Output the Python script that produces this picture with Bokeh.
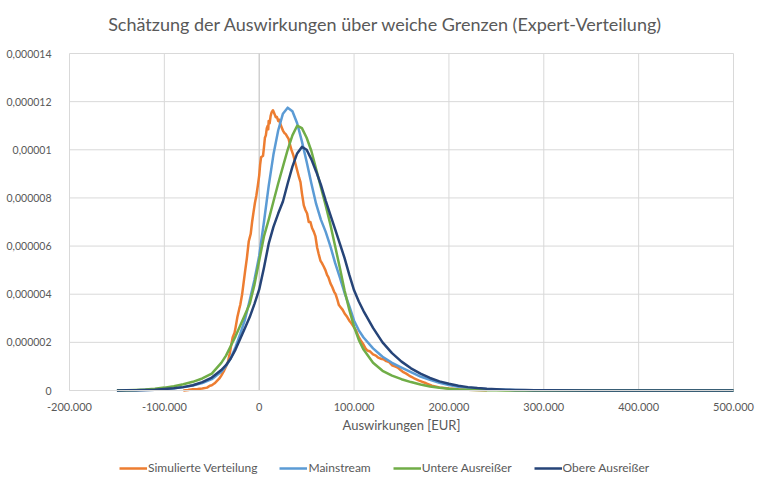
from bokeh.plotting import figure
from bokeh.models import Range1d, FixedTicker, Legend, LegendItem, ColumnDataSource, Label
from bokeh.embed import file_html
from bokeh.resources import INLINE

TITLE = "Schätzung der Auswirkungen über weiche Grenzen (Expert-Verteilung)"
X_LABEL = "Auswirkungen [EUR]"
SERIES_NAMES = ["Simulierte Verteilung", "Mainstream", "Untere Ausreißer", "Obere Ausreißer"]
COLORS = ["#ED7D31", "#5B9BD5", "#70AD47", "#264478"]

x_ticks = [-200000, -100000, 0, 100000, 200000, 300000, 400000, 500000]
x_tick_labels = ["-200.000", "-100.000", "0", "100.000", "200.000", "300.000", "400.000", "500.000"]
y_ticks = [0, 0.000002, 0.000004, 0.000006, 0.000008, 0.00001, 0.000012, 0.000014]
y_tick_labels = ["0", "0,000002", "0,000004", "0,000006", "0,000008", "0,00001", "0,000012", "0,000014"]

# values in units of 1e-6
UNIT = 1e-6

x_sim = [-80000, -75000, -70000, -65000, -60000, -55000, -52000, -50000, -47000, -45000,
         -42000, -40000, -37000, -35000, -33000, -31000, -29000, -28000, -26000, -25000,
         -23000, -21000, -20000, -18000, -15000, -13000, -11000, -10000, -9000, -7500,
         -6000, -4500, -3000, -1500, 0, 1000, 2000, 3000, 4000, 5000,
         6000, 7000, 8000, 9000, 9500, 10000, 11000, 12000, 13000, 14500,
         15500, 16500, 17500, 18700, 20000, 21000, 22000, 23500, 25000, 26500,
         28000, 29500, 31000, 32500, 34000, 36000, 38000, 40000, 42000, 43500,
         45000, 47000, 48700, 50500, 52200, 54000, 55700, 57500, 59300, 61000,
         62500, 64500, 66000, 68000, 69800, 71500, 73000, 75100, 77000, 79000,
         80500, 82200, 84000, 86000, 88000, 90000, 92800, 95000, 97000, 99800,
         102000, 104500, 107000, 110000, 112000, 114000, 117000, 120000, 123000, 125000,
         128000, 131000, 134000, 137000, 140000, 143000, 146000, 149000, 152000, 155000,
         158000, 161000, 164000, 168000, 172000, 176000, 182000, 190000, 200000, 210000,
         220000, 230000, 240000]
y_sim_u = [0.0, 0.02, 0.05, 0.06, 0.08, 0.12, 0.2, 0.22, 0.3, 0.38,
           0.5, 0.62, 0.83, 1.0, 1.18, 1.55, 2.0, 2.2, 2.4, 2.6,
           3.05, 3.4, 3.55, 4.0, 4.92, 5.5, 6.2, 6.35, 6.5, 7.0,
           7.41, 7.8, 8.1, 8.5, 8.94, 9.4, 9.7, 9.72, 9.75, 10.1,
           10.5, 10.6, 10.9, 11.0, 10.85, 11.2, 11.1, 11.4, 11.55, 11.64,
           11.55, 11.45, 11.35, 11.36, 11.2, 11.25, 11.1, 10.95, 10.8, 10.7,
           10.65, 10.55, 10.45, 10.2, 10.0, 9.77, 9.45, 9.15, 8.85, 8.66,
           8.2, 7.69, 7.5, 7.35, 7.0, 7.0, 6.75, 6.6, 6.4, 5.95,
           5.7, 5.4, 5.3, 5.15, 5.0, 4.8, 4.7, 4.45, 4.3, 4.1,
           4.0, 3.8, 3.55, 3.45, 3.35, 3.2, 3.05, 2.9, 2.8, 2.63,
           2.5, 2.25, 2.08, 1.9, 1.75, 1.66, 1.62, 1.5, 1.45, 1.38,
           1.32, 1.3, 1.22, 1.18, 1.05, 1.0, 0.95, 0.85, 0.76, 0.7,
           0.62, 0.56, 0.49, 0.42, 0.36, 0.3, 0.2, 0.13, 0.08, 0.05,
           0.03, 0.02, 0.01]

x_fit = [-150000, -140000, -130000, -120000, -110000, -100000, -90000, -80000, -70000, -60000,
         -50000, -40000, -35000, -30000, -25000, -20000, -15000, -10000, -5000, 0,
         5000, 10000, 15000, 20000, 25000, 30000, 35000, 40000, 45000, 50000,
         55000, 60000, 65000, 70000, 75000, 80000, 85000, 90000, 95000, 100000,
         105000, 110000, 120000, 130000, 140000, 150000, 160000, 170000, 180000, 190000,
         200000, 210000, 220000, 230000, 240000, 250000, 260000, 270000, 280000, 290000,
         300000, 350000, 400000, 450000, 500000]
mainstream_u = [0.005, 0.008, 0.012, 0.02, 0.035, 0.06, 0.09, 0.14, 0.21, 0.31,
                0.47, 0.78, 1.02, 1.35, 1.8, 2.35, 2.95, 3.75, 4.6, 5.6,
                7.0, 8.5, 9.8, 10.8, 11.5, 11.75, 11.6, 11.1, 10.35, 9.5,
                8.6, 7.75, 7.1, 6.6, 6.0, 5.3, 4.7, 4.05, 3.5, 2.9,
                2.5, 2.2, 1.75, 1.4, 1.15, 0.95, 0.76, 0.58, 0.44, 0.32,
                0.23, 0.16, 0.11, 0.08, 0.055, 0.04, 0.028, 0.02, 0.014, 0.01,
                0.007, 0.002, 0.001, 0.0, 0.0]
lower_u = [0.01, 0.015, 0.025, 0.04, 0.07, 0.12, 0.18, 0.26, 0.36, 0.5,
           0.7, 1.15, 1.45, 1.85, 2.25, 2.7, 3.15, 3.6, 4.4, 5.4,
           6.4, 7.1, 7.85, 8.6, 9.3, 10.0, 10.6, 11.0, 10.9, 10.5,
           9.95, 9.2, 8.45, 7.7, 6.9, 6.0, 5.1, 4.15, 3.35, 2.65,
           2.1, 1.7, 1.15, 0.82, 0.62, 0.47, 0.35, 0.25, 0.17, 0.11,
           0.07, 0.045, 0.03, 0.02, 0.012, 0.008, 0.005, 0.003, 0.002, 0.001,
           0.0, 0.0, 0.0, 0.0, 0.0]
upper_u = [0.005, 0.008, 0.012, 0.02, 0.035, 0.06, 0.09, 0.14, 0.22, 0.35,
           0.54, 0.85, 1.05, 1.33, 1.7, 2.15, 2.6, 3.05, 3.6, 4.2,
           5.1, 6.1, 6.8, 7.35, 7.85, 8.6, 9.3, 9.85, 10.12, 10.0,
           9.6, 9.1, 8.55, 7.9, 7.3, 6.7, 6.1, 5.5, 4.8, 4.16,
           3.7, 3.3, 2.6, 2.0, 1.55, 1.2, 0.92, 0.7, 0.52, 0.38,
           0.28, 0.2, 0.14, 0.1, 0.07, 0.05, 0.035, 0.025, 0.018, 0.012,
           0.008, 0.002, 0.001, 0.0, 0.0]

FONT = "Lato"
TEXT = "#595959"
GRID = "#d9d9d9"

# layout geometry (pixels): the plotting frame covers the whole canvas,
# the value area spans F_LEFT..F_RIGHT horizontally and F_TOP..AXIS_Y vertically
W, H = 762, 480
F_LEFT, F_RIGHT, F_TOP, AXIS_Y = 69, 733, 53, 390
x_lo, x_hi = x_ticks[0], x_ticks[-1]
y_lo, y_hi = y_ticks[0], y_ticks[-1]
kx = (F_RIGHT - F_LEFT) / (x_hi - x_lo)
ky = (AXIS_Y - F_TOP) / (y_hi - y_lo)
x_range = Range1d(x_lo - F_LEFT / kx, x_hi + (W - F_RIGHT) / kx)
y_range = Range1d(y_lo - (H - AXIS_Y) / ky, y_hi + F_TOP / ky)

p = figure(width=W, height=H, output_backend="svg", toolbar_location=None,
           x_range=x_range, y_range=y_range,
           min_border_left=0, min_border_right=0, min_border_top=0, min_border_bottom=0)
p.outline_line_color = None
p.background_fill_color = "white"
p.border_fill_color = "white"
p.xgrid.visible = False
p.ygrid.visible = False

# grid lines limited to the value area
n_x, n_y = len(x_ticks), len(y_ticks)
p.segment(x0=x_ticks, y0=[y_lo] * n_x, x1=x_ticks, y1=[y_hi] * n_x, line_color=GRID, line_width=1)
p.segment(x0=[x_lo] * n_y, y0=y_ticks, x1=[x_hi] * n_y, y1=y_ticks, line_color=GRID, line_width=1)
# vertical value axis crossing at x = 0
p.segment(x0=[0], y0=[y_lo], x1=[0], y1=[y_hi], line_color="#c8c8c8", line_width=1)

p.xaxis.fixed_location = y_lo
p.xaxis.bounds = (x_lo, x_hi)
p.yaxis.fixed_location = x_lo
p.yaxis.bounds = (y_lo, y_hi)
p.xaxis.ticker = FixedTicker(ticks=x_ticks)
p.xaxis.major_label_overrides = dict(zip(x_ticks, x_tick_labels))
p.yaxis.ticker = FixedTicker(ticks=y_ticks)
p.yaxis.major_label_overrides = dict(zip(y_ticks, y_tick_labels))

for ax in (p.xaxis, p.yaxis):
    ax.major_tick_line_color = None
    ax.minor_tick_line_color = None
    ax.major_label_text_font = FONT
    ax.major_label_text_color = TEXT
p.xaxis.major_label_text_font_size = "11px"
p.yaxis.major_label_text_font_size = "10.5px"
p.yaxis.axis_line_color = None
p.yaxis.major_label_standoff = 12
p.xaxis.axis_line_color = GRID
p.xaxis.major_label_standoff = 6
p.xaxis.axis_label = X_LABEL
p.xaxis.axis_label_text_font = FONT
p.xaxis.axis_label_text_font_size = "13px"
p.xaxis.axis_label_text_font_style = "normal"
p.xaxis.axis_label_text_color = TEXT
p.xaxis.axis_label_standoff = 3

p.add_layout(Label(x=385, y=H - 23, x_units="screen", y_units="screen", text=TITLE,
                   text_font=FONT, text_font_size="18px", text_color=TEXT,
                   text_align="center", text_baseline="middle"))

ys = [[v * UNIT for v in y_sim_u], [v * UNIT for v in mainstream_u],
      [v * UNIT for v in lower_u], [v * UNIT for v in upper_u]]
xs = [x_sim, x_fit, x_fit, x_fit]
items = []
for name, color, xv, yv in zip(SERIES_NAMES, COLORS, xs, ys):
    src = ColumnDataSource(dict(x=xv, y=yv))
    r = p.line("x", "y", source=src, line_color=color, line_width=2.5, line_join="round")
    items.append(LegendItem(label=name, renderers=[r]))

legend = Legend(items=items, orientation="horizontal", location=(119, 5),
                glyph_width=28, glyph_height=14, label_standoff=1, spacing=22,
                label_text_font=FONT, label_text_font_size="12px", label_text_color=TEXT,
                border_line_color=None, background_fill_alpha=0, margin=0, padding=0)
p.add_layout(legend, "center")

open("out.html", "w").write(file_html(p, INLINE))
